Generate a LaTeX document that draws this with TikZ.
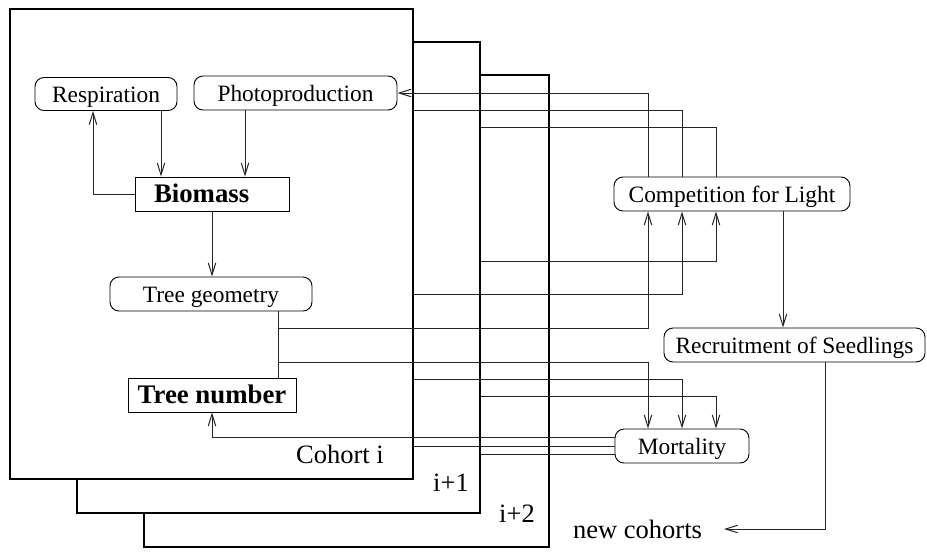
\documentclass[tikz,border=0pt]{standalone}
\usepackage{fontspec}
\setmainfont{Liberation Serif}
\usetikzlibrary{arrows.meta}
\begin{document}
\begin{tikzpicture}[x=1pt,y=-1pt,
  conn/.style={line width=1pt, draw=black!85},
  arr/.style={conn, -{Straight Barb[length=12pt,width=7.5pt]}},
  cohortbox/.style={draw, line width=1.6pt, fill=white, inner sep=0pt},
  roundbox/.style={draw, line width=0.9pt, rounded corners=9pt, inner sep=0pt, text height=18pt, text depth=1pt, font=\fontsize{23.4}{28}\selectfont},
  boldbox/.style={draw, line width=0.9pt, inner sep=0pt, text height=17.5pt, text depth=1pt, font=\fontsize{26.8}{32}\selectfont\bfseries},
  lbl/.style={font=\fontsize{26.5}{32}\selectfont, inner sep=0pt, anchor=base west}]

\useasboundingbox (0,0) rectangle (927,552);

% cohort boxes
\node[cohortbox, minimum width=405pt, minimum height=472pt] (k2) at (346.5,311) {};
\node[cohortbox, minimum width=403pt, minimum height=471pt] (k1) at (278.5,277.5) {};
\node[cohortbox, minimum width=403pt, minimum height=470pt] (k0) at (211.5,244) {};

% process nodes
\node[roundbox, minimum width=142pt, minimum height=33pt] (resp) at (106,94) {Respiration};
\node[roundbox, minimum width=203pt, minimum height=34pt] (photo) at (295.5,93) {Photoproduction};
\node[boldbox, text width=116pt, align=left, inner xsep=19pt, minimum height=34pt] (bio) at (212,194) {Biomass};
\node[roundbox, minimum width=202pt, minimum height=34pt] (tg) at (211,294) {Tree geometry};
\node[boldbox, minimum width=168pt, minimum height=34pt] (tn) at (212,395) {Tree number};
\node[roundbox, minimum width=236pt, minimum height=34pt] (comp) at (732,194) {Competition for Light};
\node[roundbox, minimum width=261pt, minimum height=34pt] (rec) at (794.5,345) {Recruitment of Seedlings};
\node[roundbox, minimum width=134pt, minimum height=34pt] (mort) at (682,446) {Mortality};

% labels
\node[lbl] (lci) at (296,463) {Cohort i};
\node[lbl] (l1) at (433,491) {i+1};
\node[lbl] (l2) at (499,522) {i+2};
\node[lbl] (nc) at (573,538) {new cohorts};

% columns and rows
\coordinate (xa) at (93,0);
\coordinate (xb) at (161,0);
\coordinate (xc) at (245,0);
\coordinate (xd) at (212,0);
\coordinate (xe) at (278,0);
\coordinate (xf) at (648,0);
\coordinate (xg) at (682,0);
\coordinate (xh) at (716,0);
\coordinate (xi) at (783,0);
\coordinate (xj) at (825,0);
\coordinate (r110) at (0,110);
\coordinate (r127) at (0,127);
\coordinate (r261) at (0,261);
\coordinate (r294) at (0,294);
\coordinate (r328) at (0,328);
\coordinate (r362) at (0,362);
\coordinate (r379) at (0,379);
\coordinate (r396) at (0,396);
\coordinate (r437) at (0,437);
\coordinate (r446) at (0,446);
\coordinate (r454) at (0,454);
\coordinate (ncend) at (724,529);

% inside cohort i
\draw[arr] (resp.south -| xb) -- (bio.north -| xb);
\draw[arr] (photo.south -| xc) -- (bio.north -| xc);
\draw[arr] (bio.west) -| (xa |- resp.south);
\draw[arr] (bio.south) -- (bio.south |- tg.north);
\draw[conn] (tg.south -| xe) -- (tn.north -| xe);

% competition for light
\draw[arr] (comp.north -| xf) |- (photo.east);
\draw[conn] (comp.north -| xg) |- (k0.east |- r110);
\draw[conn] (comp.north -| xh) |- (k1.east |- r127);
\draw[arr] (k1.east |- r261) -| (comp.south -| xh);
\draw[arr] (k0.east |- r294) -| (comp.south -| xg);
\draw[arr] (xe |- r328) -| (comp.south -| xf);

% mortality
\draw[arr] (xe |- r362) -| (mort.north -| xf);
\draw[arr] (k0.east |- r379) -| (mort.north -| xg);
\draw[arr] (k1.east |- r396) -| (mort.north -| xh);
\draw[arr] (mort.west |- r437) -| (tn.south -| xd);
\draw[conn] (mort.west |- r446) -- (k0.east |- r446);
\draw[conn] (mort.west |- r454) -- (k1.east |- r454);

% recruitment
\draw[arr] (comp.south -| xi) -- (rec.north -| xi);
\draw[arr] (rec.south -| xj) |- (ncend);
\end{tikzpicture}
\end{document}
